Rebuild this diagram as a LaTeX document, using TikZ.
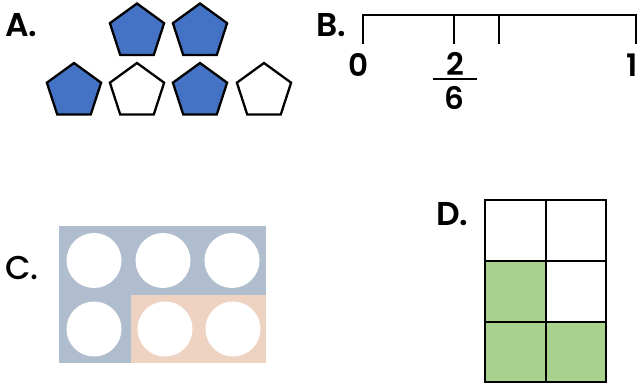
\documentclass[tikz,border=0pt]{standalone}
\usepackage{fontspec}
\setmainfont{Poppins}[BoldFont=* SemiBold]
\newfontfamily\pmed{Poppins}[UprightFont=* Medium]
\usetikzlibrary{shapes.geometric}
\definecolor{pblue}{HTML}{4472C4}
\definecolor{cgray}{HTML}{B0BDCE}
\definecolor{cpeach}{HTML}{EED3C3}
\definecolor{dgreen}{HTML}{A9D18E}
\begin{document}
\begin{tikzpicture}[x=1pt,y=-1pt,
  pent/.style={regular polygon,regular polygon sides=5,inner sep=0pt,minimum size=57pt,draw=black,line width=2.3pt,line join=miter},
  lbl/.style={font=\fontsize{33}{34}\selectfont\bfseries,inner sep=0pt},
  num/.style={font=\fontsize{31}{32}\selectfont\bfseries,inner sep=0pt},
  hole/.style={circle,fill=white,inner sep=0pt,minimum size=55pt},
  axis/.style={line width=2.6pt},
  grid/.style={line width=2.6pt}]
\useasboundingbox (0,0) rectangle (639,387);
% A
\node[lbl,anchor=west] (la) at (5,25) {A.};
\node[pent,fill=pblue] (p1) at (137,32) {};
\node[pent,fill=pblue] (p2) at (200,32) {};
\node[pent,fill=pblue] (p3) at (74,91.5) {};
\node[pent,fill=white] (p4) at (137,91.5) {};
\node[pent,fill=pblue] (p5) at (200,91.5) {};
\node[pent,fill=white] (p6) at (264,91.5) {};
% B
\node[lbl,anchor=west] (lb) at (316,25) {B.};
\coordinate (a0) at (363,15);
\coordinate (a1) at (636,15);
\coordinate (t0) at (363,44);
\coordinate (t1) at (636,44);
\coordinate (m1) at (454,15);
\coordinate (m1b) at (454,44);
\coordinate (m2) at (499,15);
\coordinate (m2b) at (499,44);
\draw[axis,line join=miter] (t0) -- (a0) -- (a1) -- (t1);
\draw[axis] (m1) -- (m1b);
\draw[axis] (m2) -- (m2b);
\node[num] (n0) at (359,65) {0};
\node[num] (n1) at (632,65) {1};
\node[num] (n2) at (455,64) {2};
\coordinate (fb0) at (433,79);
\coordinate (fb1) at (477,79);
\draw[line width=2pt] (fb0) -- (fb1);
\node[num] (n6) at (454,98) {6};
% C
\node[lbl,anchor=west,font=\fontsize{33}{34}\selectfont\pmed] (lc) at (5,268) {C.};
\fill[cgray] (59,226) rectangle (266,363);
\fill[cpeach] (131,295) rectangle (266,363);
\node[hole] (c1) at (94,260.5) {};
\node[hole] (c2) at (163,260.5) {};
\node[hole] (c3) at (232,260.5) {};
\node[hole] (c4) at (94,329) {};
\node[hole] (c5) at (165,329) {};
\node[hole] (c6) at (233,329) {};
% D
\node[lbl,anchor=west] (ld) at (436,214) {D.};
\fill[dgreen] (485,261) rectangle (546,382);
\fill[dgreen] (546,322) rectangle (606,382);
\draw[grid] (485,200) rectangle (606,382);
\draw[grid] (546,200) -- (546,382);
\draw[grid] (485,261) -- (606,261);
\draw[grid] (485,322) -- (606,322);
\end{tikzpicture}
\end{document}
